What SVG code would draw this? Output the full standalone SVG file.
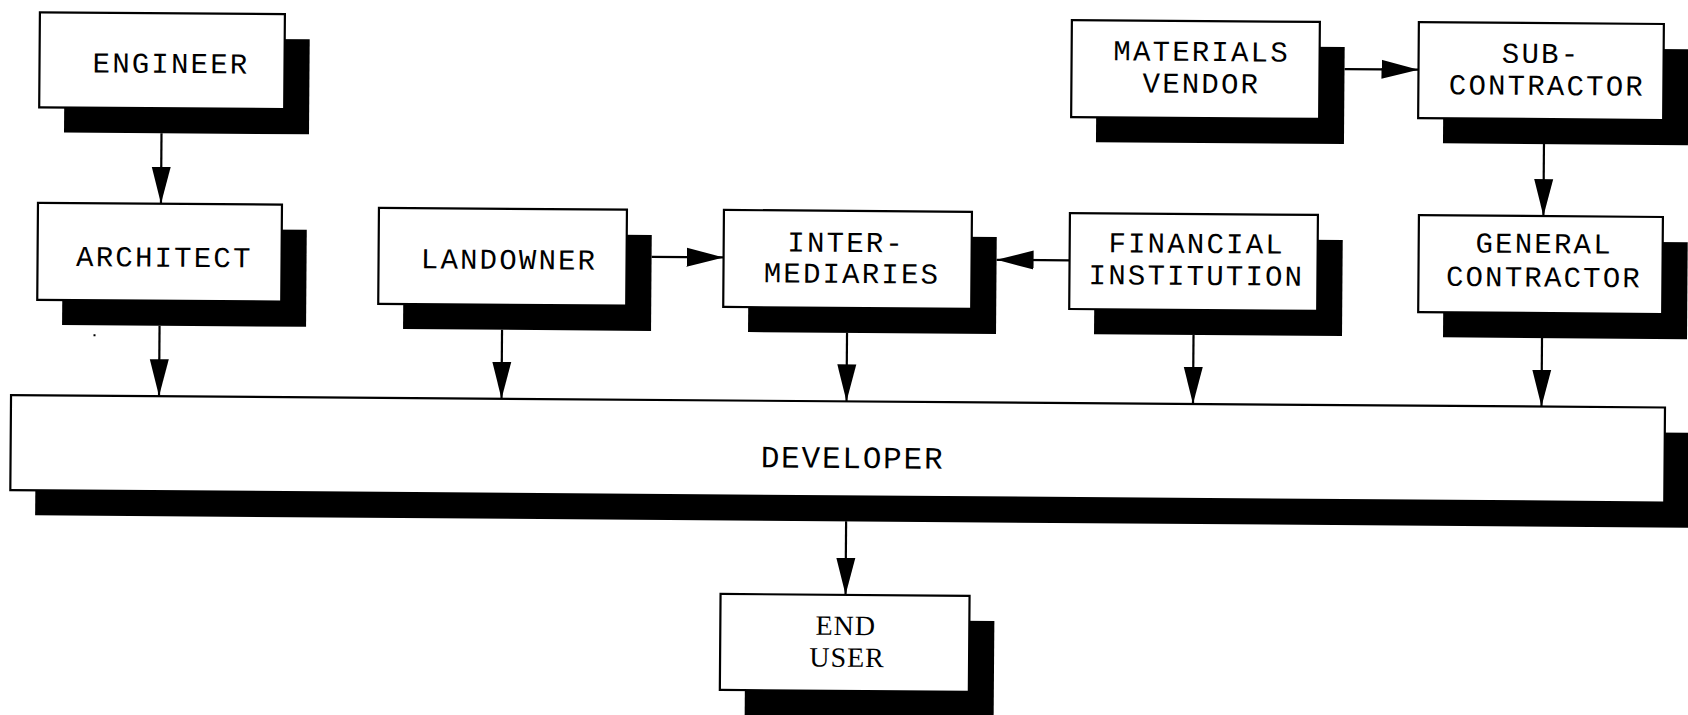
<svg xmlns="http://www.w3.org/2000/svg" width="1688" height="715" viewBox="0 0 1688 715">
  <style>
    .box { fill: #ffffff; stroke: #000000; stroke-width: 2.2; }
    .shadow { fill: #000000; }
    .label { font-family: "Liberation Mono", "DejaVu Sans Mono", monospace; font-size: 29px; letter-spacing: 2.2px; fill: #000000; text-anchor: middle; }
    .serif { font-family: "Liberation Serif", "DejaVu Serif", serif; font-size: 28px; letter-spacing: 1px; fill: #000000; text-anchor: middle; }
    .link { fill: none; stroke: #000000; stroke-width: 2.2; marker-end: url(#head); }
  </style>
  <defs>
    <marker id="head" markerUnits="userSpaceOnUse" viewBox="0 -10 37 20" markerWidth="37" markerHeight="20" refX="37" refY="0" orient="auto">
      <path d="M0,-9.5 L37,0 L0,9.5 z" fill="#000000"/>
    </marker>
  </defs>
  <rect width="1688" height="715" fill="#ffffff"/>

  <g transform="rotate(0.43)">
    <!-- connectors -->
    <g id="connectors">
      <line class="link" x1="162.5" y1="132" x2="162.5" y2="202.5"/>
      <line class="link" x1="162" y1="324.5" x2="162" y2="395"/>
      <line class="link" x1="504.5" y1="326" x2="504.5" y2="395"/>
      <line class="link" x1="849.5" y1="326.5" x2="849.5" y2="395"/>
      <line class="link" x1="1196" y1="326" x2="1196" y2="395"/>
      <line class="link" x1="1544.5" y1="326.5" x2="1544.5" y2="395"/>
      <line class="link" x1="1545" y1="132.5" x2="1545" y2="204.5"/>
      <line class="link" x1="850" y1="515" x2="850" y2="588.5"/>
      <line class="link" x1="1345" y1="59" x2="1419" y2="59"/>
      <line class="link" x1="653.5" y1="252" x2="725.5" y2="252"/>
      <line class="link" x1="1071.5" y1="252.3" x2="998.5" y2="252.3"/>
    </g>

    <g id="engineer">
      <rect class="shadow" x="65" y="37" width="245" height="95"/>
      <rect class="box" x="40" y="12" width="245" height="95"/>
      <text class="label" x="171.5" y="71.7">ENGINEER</text>
    </g>

    <g id="architect">
      <rect class="shadow" x="64.5" y="227.5" width="244" height="97"/>
      <rect class="box" x="39.5" y="202.5" width="244" height="97"/>
      <text class="label" x="166.3" y="265.5">ARCHITECT</text>
    </g>

    <g id="landowner">
      <rect class="shadow" x="405.5" y="230" width="248" height="96"/>
      <rect class="box" x="380.5" y="205" width="248" height="96"/>
      <text class="label" x="511" y="265.2">LANDOWNER</text>
    </g>

    <g id="intermediaries">
      <rect class="shadow" x="750.5" y="229.5" width="248" height="97"/>
      <rect class="box" x="725.5" y="204.5" width="248" height="97"/>
      <text class="label" x="848" y="245.6">INTER-</text>
      <text class="label" x="854" y="276.6">MEDIARIES</text>
    </g>

    <g id="financial-institution">
      <rect class="shadow" x="1096.5" y="230" width="248" height="96"/>
      <rect class="box" x="1071.5" y="205" width="248" height="96"/>
      <text class="label" x="1198.5" y="244">FINANCIAL</text>
      <text class="label" x="1198.5" y="276">INSTITUTION</text>
    </g>

    <g id="general-contractor">
      <rect class="shadow" x="1445.5" y="229.5" width="244" height="97"/>
      <rect class="box" x="1420.5" y="204.5" width="244" height="97"/>
      <text class="label" x="1546" y="241.5">GENERAL</text>
      <text class="label" x="1546" y="275">CONTRACTOR</text>
    </g>

    <g id="materials-vendor">
      <rect class="shadow" x="1097" y="37" width="248" height="97"/>
      <rect class="box" x="1072" y="12" width="248" height="97"/>
      <text class="label" x="1202" y="52">MATERIALS</text>
      <text class="label" x="1202" y="84">VENDOR</text>
    </g>

    <g id="sub-contractor">
      <rect class="shadow" x="1444" y="36.5" width="245" height="96"/>
      <rect class="box" x="1419" y="11.5" width="245" height="96"/>
      <text class="label" x="1541.5" y="51.4">SUB-</text>
      <text class="label" x="1547.5" y="83.4">CONTRACTOR</text>
    </g>

    <g id="developer">
      <rect class="shadow" x="39" y="420" width="1654" height="95"/>
      <rect class="box" x="14" y="395" width="1654" height="95"/>
      <text class="label" x="856" y="461.6" style="font-size:31px;letter-spacing:1.8px">DEVELOPER</text>
    </g>

    <g id="end-user">
      <rect class="shadow" x="750" y="613.5" width="249" height="96"/>
      <rect class="box" x="725" y="588.5" width="249" height="96"/>
      <text class="serif" x="850.5" y="628.7">END</text>
      <text class="serif" x="852" y="660.4">USER</text>
    </g>

    <rect x="96" y="333.5" width="2" height="2" fill="#000000"/>
  </g>
</svg>
